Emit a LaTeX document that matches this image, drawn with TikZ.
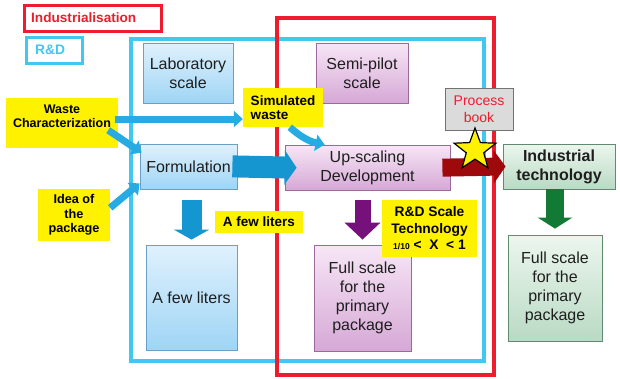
\documentclass[tikz,border=0pt]{standalone}
\usepackage{fontspec}
\setmainfont{Liberation Sans}
\usetikzlibrary{arrows.meta,shapes.geometric,calc}
\definecolor{cyanf}{RGB}{64,200,240}
\definecolor{redf}{RGB}{237,28,46}
\definecolor{btop}{RGB}{224,241,253}
\definecolor{bbot}{RGB}{158,213,245}
\definecolor{bbord}{RGB}{105,160,200}
\definecolor{ptop}{RGB}{247,230,246}
\definecolor{pbot}{RGB}{214,168,214}
\definecolor{pbord}{RGB}{155,105,155}
\definecolor{gtop}{RGB}{236,246,238}
\definecolor{gbot}{RGB}{185,218,196}
\definecolor{gbord}{RGB}{95,140,110}
\definecolor{arrblue}{RGB}{22,150,208}
\definecolor{thinblue}{RGB}{38,172,226}
\definecolor{arrpurple}{RGB}{118,16,122}
\definecolor{arrgreen}{RGB}{18,122,52}
\definecolor{arrred}{RGB}{158,10,12}
\definecolor{txt}{RGB}{30,30,30}
\begin{document}
\begin{tikzpicture}[x=1pt,y=-1pt,
  box/.style={draw, line width=0.8pt, inner sep=2pt, align=center, text=txt,
    font=\fontsize{16}{19}\selectfont},
  bluebox/.style={box, draw=bbord, top color=btop, bottom color=bbot},
  pinkbox/.style={box, draw=pbord, top color=ptop, bottom color=pbot},
  greenbox/.style={box, draw=gbord, top color=gtop, bottom color=gbot},
  ylabel/.style={fill=yellow, inner sep=1pt, align=center, text=black,
    font=\bfseries\fontsize{13.5}{14.6}\selectfont},
  frame/.style={draw, line width=#1, fill=none},
  thinarrow/.style={draw=thinblue, line width=7pt,
    -{Triangle[length=9pt,width=16pt]}},
  fatblue/.style={draw=arrblue, line width=20pt,
    -{Triangle[length=10pt,width=35pt]}},
  fatform/.style={draw=arrblue, line width=22pt,
    -{Triangle[length=12pt,width=34pt]}},
  fatpurple/.style={draw=arrpurple, line width=16pt,
    -{Triangle[length=17pt,width=35pt]}},
  fatgreen/.style={draw=arrgreen, line width=18pt,
    -{Triangle[length=11pt,width=34pt]}},
  fatred/.style={draw=arrred, line width=18pt,
    -{Triangle[length=12pt,width=33pt]}},
]
\useasboundingbox (0,0) rectangle (620,378);
\fill[white] (0,0) rectangle (620,378);

% big frames
\node[frame=4pt, draw=cyanf, minimum width=353pt, minimum height=322pt] (rdframe) at (307.5,200) {};
\node[frame=4pt, draw=redf, minimum width=217pt, minimum height=357pt] (indframe) at (385.5,196.5) {};

% legend
\node[frame=3pt, draw=redf, minimum width=137pt, minimum height=26pt] (indusbox) at (92.5,18) {};
\node[anchor=west, inner sep=0pt, text=redf, font=\bfseries\fontsize{13.6}{15}\selectfont] (industxt) at (31,18) {Industrialisation};
\node[frame=3pt, draw=cyanf, minimum width=56pt, minimum height=26pt] (rdbox) at (54,50) {};
\node[anchor=west, inner sep=0pt, text=cyanf, font=\bfseries\fontsize{13.8}{15}\selectfont] (rdtxt) at (35,50) {R\&D};

% boxes
\node[bluebox, minimum width=90pt, minimum height=60pt] (lab) at (188,73) {Laboratory\\scale};
\node[pinkbox, minimum width=92pt, minimum height=60pt] (semi) at (362,73) {Semi-pilot\\scale};
\node[bluebox, minimum width=97pt, minimum height=45pt] (form) at (188.5,166.5) {Formulation};
\node[pinkbox, minimum width=165pt, minimum height=45pt] (up) at (367.5,167.5) {Up-scaling\\Development};
\node[bluebox, minimum width=91pt, minimum height=105pt] (few) at (191.5,297.5) {A few liters};
\node[pinkbox, minimum width=97pt, minimum height=106pt] (fullp) at (362.5,298) {Full scale\\for the\\primary\\package};
\node[greenbox, minimum width=94pt, minimum height=106pt] (fullg) at (555,288) {Full scale\\for the\\primary\\package};
\node[draw=black!55, line width=0.9pt, fill=black!14, minimum width=68pt, minimum height=42pt,
  align=center, inner sep=1pt, text=redf, font=\fontsize{14}{16.5}\selectfont] (pbook) at (479,109) {Process\\book};

% yellow labels
\node[ylabel, minimum width=112pt, minimum height=50pt, font=\bfseries\fontsize{12.5}{14.3}\selectfont] (waste) at (62,123) {Waste\\Characterization\\{}};
\node[ylabel, minimum width=80pt, minimum height=39pt, align=left] (sim) at (283,107.5) {Simulated\\waste};
\node[ylabel, minimum width=72pt, minimum height=52pt, font=\bfseries\fontsize{12.7}{14.7}\selectfont] (idea) at (74,215) {Idea of\\the\\package};
\node[ylabel, minimum width=88pt, minimum height=22pt] (fewlab) at (259,222) {A few liters};
\node[ylabel, minimum width=95pt, minimum height=57pt, font=\bfseries\fontsize{13.8}{16.5}\selectfont] (rdlab) at (429.5,228.5)
  {R\&D Scale\\Technology\\{\fontsize{8.5}{10}\selectfont 1/10}\ <\ \ X\ \ <\ 1};

% arrows
\coordinate (wstart) at ([yshift=4pt]waste.east);
\draw[thinarrow, shorten <=-3pt] (wstart) -- (wstart -| sim.west);
\draw[thinarrow] ($(waste.south east)+(-10,-18)$) -- ($(form.north west)+(2,9)$);
\draw[thinarrow] ($(idea.north east)+(0,19)$) -- ($(form.south west)+(0,-6)$);
\draw[thinarrow] ($(sim.south west)+(47,0)$) to[bend right=15] ($(up.north west)+(40,0)$);
\draw[fatform, shorten <=-5pt, shorten >=-12pt] (form.east) -- (up.west);
\draw[fatblue, shorten <=11pt, shorten >=5pt] (few.north |- form.south) -- (few.north);
\draw[fatpurple, shorten <=10pt, shorten >=5pt] (fullp.north |- up.south) -- (fullp.north);

\node[greenbox, minimum width=112pt, minimum height=45pt, font=\bfseries\fontsize{16}{19}\selectfont] (indtech) at (559,166.5) {Industrial\\technology};
\draw[fatgreen, shorten >=6pt] (fullg.north |- indtech.south) -- (fullg.north);
\draw[fatred, shorten <=-8pt, shorten >=-3pt] (up.east) -- (indtech.west);

\node[star, star points=5, star point ratio=2.4, minimum size=44pt, inner sep=0pt,
  fill=yellow, draw=black, line width=1.2pt] (star) at (475,150) {};
\end{tikzpicture}
\end{document}
